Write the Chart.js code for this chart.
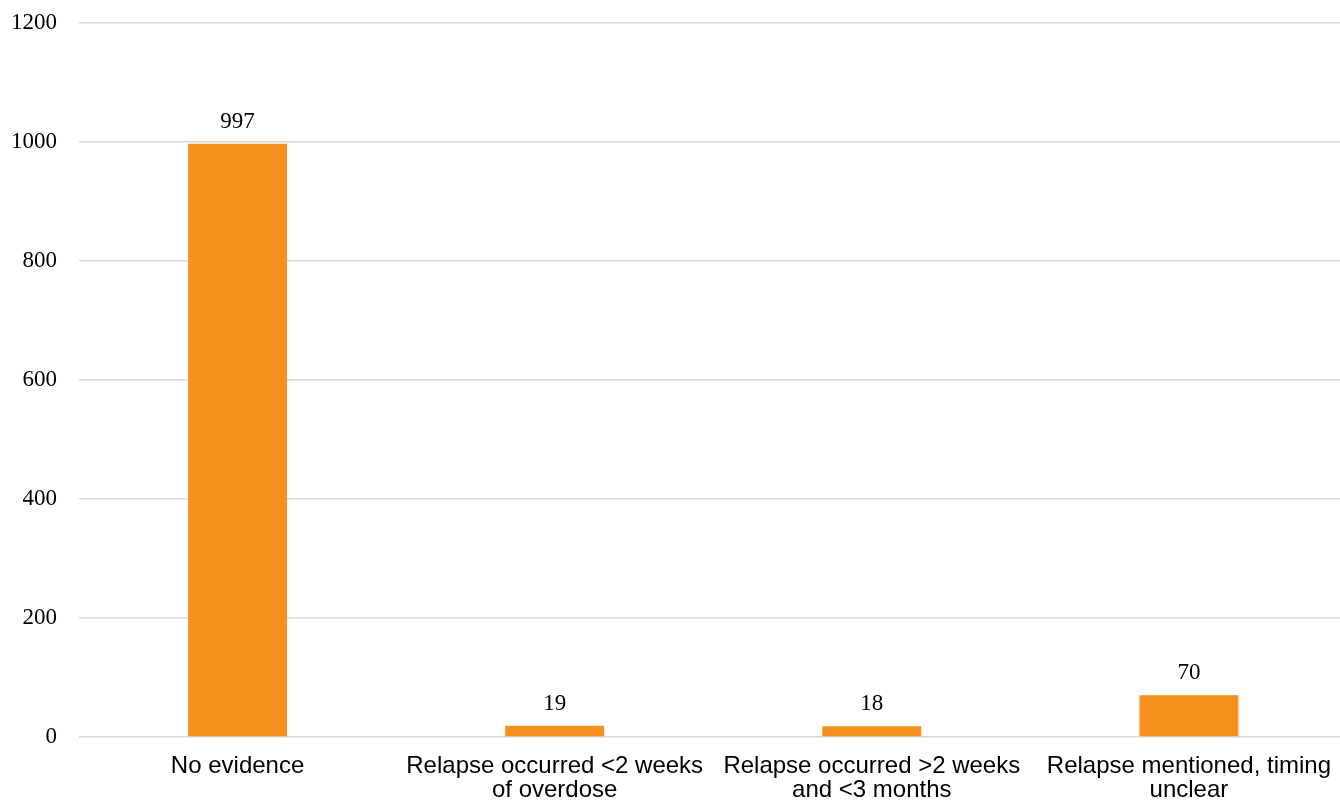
<!DOCTYPE html>
<html>
<head>
<meta charset="utf-8">
<script src="https://cdn.jsdelivr.net/npm/chart.js@4.4.1/dist/chart.umd.min.js"></script>
<style>
  html, body { margin: 0; padding: 0; background: #fff; overflow: hidden; }
  #wrap { width: 1348px; height: 802px; position: relative; }
</style>
</head>
<body>
<div id="wrap"><canvas id="relapseChart"></canvas></div>
<script>
const categories = [
  ['No evidence'],
  ['Relapse occurred <2 weeks', 'of overdose'],
  ['Relapse occurred >2 weeks', 'and <3 months'],
  ['Relapse mentioned, timing', 'unclear']
];
const counts = [997, 19, 18, 70];
const yTicks = [0, 200, 400, 600, 800, 1000, 1200];

// value labels above each bar
const barValues = {
  id: 'barValues',
  afterDatasetsDraw(chart) {
    const ctx = chart.ctx;
    const meta = chart.getDatasetMeta(0);
    ctx.save();
    ctx.font = '23px "Liberation Serif", "Times New Roman", serif';
    ctx.fillStyle = '#000';
    ctx.textAlign = 'center';
    ctx.textBaseline = 'alphabetic';
    meta.data.forEach((bar, i) => {
      ctx.fillText(String(counts[i]), bar.x, bar.y - 16);
    });
    ctx.restore();
  }
};

new Chart('relapseChart', {
  type: 'bar',
  data: {
    labels: categories,
    datasets: [{
      data: counts,
      backgroundColor: '#F7901E',
      categoryPercentage: 1,
      barPercentage: 0.312
    }]
  },
  options: {
    responsive: true,
    maintainAspectRatio: false,
    animation: false,
    layout: { padding: { top: 23, bottom: 0, left: 0, right: 0 } },
    plugins: { legend: { display: false }, tooltip: { enabled: false } },
    scales: {
      x: {
        afterFit(scale) { scale.height = 65; },
        grid: { display: false, drawTicks: false },
        border: { display: false },
        ticks: {
          color: '#000',
          font: { family: '"Liberation Sans", Arial, sans-serif', size: 24, lineHeight: 1 },
          maxRotation: 0,
          autoSkip: false,
          padding: 17
        }
      },
      y: {
        min: 0,
        max: 1200,
        afterFit(scale) { scale.width = 79; scale.paddingTop = 0; scale.paddingBottom = 0; },
        afterBuildTicks(scale) { scale.ticks = yTicks.map(v => ({ value: v })); },
        grid: { color: '#D9D9D9', lineWidth: 1.5, drawTicks: false },
        border: { display: false },
        ticks: {
          color: '#000',
          font: { family: '"Liberation Serif", "Times New Roman", serif', size: 23 },
          padding: 22,
          callback: v => String(v)
        }
      }
    }
  },
  plugins: [barValues]
});
</script>
</body>
</html>
